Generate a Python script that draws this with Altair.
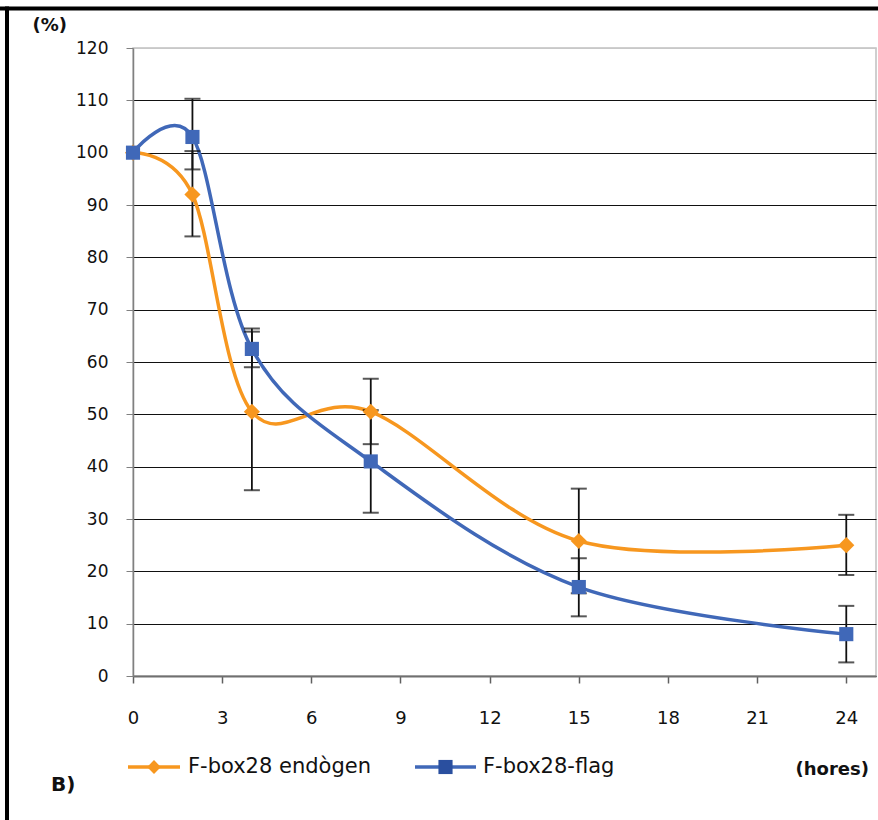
import altair as alt
import pandas as pd

# ---- data ----
hours = [0, 2, 4, 8, 15, 24]
series_names = ["F-box28 endògen", "F-box28-flag"]
endogen = [100, 92, 50.5, 50.5, 25.8, 25]
endogen_lo = [None, 84, 35.5, 44.3, 15.8, 19.3]
endogen_hi = [None, 100.3, 65.8, 56.8, 35.8, 30.8]
flag = [100, 103, 62.5, 41, 17, 8]
flag_lo = [None, 96.8, 59, 31.2, 11.4, 2.6]
flag_hi = [None, 110.3, 66.4, 50.8, 22.5, 13.4]
x_ticks = [0, 3, 6, 9, 12, 15, 18, 21, 24]
y_ticks = [0, 10, 20, 30, 40, 50, 60, 70, 80, 90, 100, 110, 120]
y_title = "(%)"
x_title = "(hores)"
panel_label = "B)"

ORANGE = "#F7971F"
BLUE_LINE = "#4068B8"
BLUE_MARK = "#2A4F9F"

rows, err_rows, cap_rows = [], [], []
for name, vals, lo, hi in [(series_names[0], endogen, endogen_lo, endogen_hi),
                           (series_names[1], flag, flag_lo, flag_hi)]:
    for h, v, l, u in zip(hours, vals, lo, hi):
        rows.append({"series": name, "h": h, "v": v})
        if l is not None:
            err_rows.append({"series": name, "h": h, "lo": l, "hi": u})
            cap_rows.append({"series": name, "h": h, "c": l})
            cap_rows.append({"series": name, "h": h, "c": u})
df = pd.DataFrame(rows)
err = pd.DataFrame(err_rows)
caps = pd.DataFrame(cap_rows)

W, H = 743, 628
PL, PT = 133, 48

xs = alt.Scale(domain=[0, 25], nice=False, zero=False)
ys = alt.Scale(domain=[0, 120], nice=False)

x_enc = alt.X("h:Q", scale=xs, axis=alt.Axis(
    values=x_ticks, grid=False, title=x_title, titleX=662, titleY=93,
    titleAlign="left", titleBaseline="middle", titleAngle=0,
    titleFont="DejaVu Sans", titleFontSize=18, titleFontWeight="bold", titleColor="#111",
    labelFont="DejaVu Sans", labelFontSize=18, labelColor="#111", labelPadding=26,
    labelBaseline="top", labelFlush=False, labelOverlap=False,
    tickSize=7, tickColor="#606060", tickWidth=1.5,
    domainColor="#707070", domainWidth=2))
y_enc = alt.Y("v:Q", scale=ys, axis=alt.Axis(
    values=y_ticks, grid=True,
    gridColor=alt.condition("datum.value == 120", alt.value("#c8c8c8"), alt.value("#111111")),
    gridWidth=1.2,
    title=y_title, titleX=-101, titleY=-23, titleAngle=0, titleAlign="left",
    titleBaseline="middle", titleFont="DejaVu Sans", titleFontSize=18,
    titleFontWeight="bold", titleColor="#111",
    labelFont="DejaVu Sans", labelFontSize=17, labelColor="#111", labelPadding=18,
    labelFlush=False, labelOverlap=False,
    tickSize=7, tickColor="#808080", domainColor="#808080", domainWidth=1.5))

color = alt.Color("series:N", scale=alt.Scale(domain=series_names, range=[ORANGE, BLUE_LINE]), legend=None)
mcolor = alt.Color("series:N", scale=alt.Scale(domain=series_names, range=[ORANGE, BLUE_MARK]), legend=None)
shape = alt.Shape("series:N", scale=alt.Scale(domain=series_names, range=["diamond", "square"]), legend=None)
msize = alt.Size("series:N", scale=alt.Scale(domain=series_names, range=[260, 200]), legend=None)

lines = alt.Chart(df).mark_line(interpolate="cardinal", strokeWidth=3.5).encode(
    x=x_enc, y=y_enc, color=color)

ebars = alt.Chart(err).mark_rule(color="#111", strokeWidth=1.8).encode(
    x=alt.X("h:Q", scale=xs), y=alt.Y("lo:Q", scale=ys), y2="hi:Q")
ecaps = alt.Chart(caps).mark_tick(color="#111", orient="horizontal", size=16, thickness=2).encode(
    x=alt.X("h:Q", scale=xs), y=alt.Y("c:Q", scale=ys))

points = alt.Chart(df).mark_point(filled=True, opacity=1).encode(
    x=alt.X("h:Q", scale=xs), y=alt.Y("v:Q", scale=ys), color=mcolor, shape=shape, size=msize)

# ---- frame lines of the figure ----
one = pd.DataFrame({"k": [0]})
frame_top = alt.Chart(one).mark_rule(color="black", strokeWidth=4).encode(
    x=alt.value(-PL), x2=alt.value(878 - PL), y=alt.value(8.5 - PT))
frame_left = alt.Chart(one).mark_rule(color="black", strokeWidth=4).encode(
    x=alt.value(7 - PL), y=alt.value(6.5 - PT), y2=alt.value(820 - PT))

# ---- legend (manual) ----
leg_y = 767 - PT
leg = []
for name, col, mcol, shp, sz, x0, x1, tx in [
        (series_names[0], ORANGE, ORANGE, "diamond", 190, 128, 180, 188),
        (series_names[1], BLUE_LINE, BLUE_MARK, "square", 200, 415, 476, 483)]:
    d = pd.DataFrame({"name": [name]})
    leg.append(alt.Chart(d).mark_rule(color=col, strokeWidth=3.5).encode(
        x=alt.value(x0 - PL), x2=alt.value(x1 - PL), y=alt.value(leg_y)))
    leg.append(alt.Chart(d).mark_point(filled=True, opacity=1, color=mcol, shape=shp, size=sz).encode(
        x=alt.value((x0 + x1) / 2 - PL), y=alt.value(leg_y)))
    leg.append(alt.Chart(d).mark_text(align="left", baseline="middle", font="DejaVu Sans",
                                      fontSize=21, color="#111").encode(
        x=alt.value(tx - PL), y=alt.value(leg_y), text="name:N"))

blabel = alt.Chart(pd.DataFrame({"t": [panel_label]})).mark_text(
    align="left", baseline="middle", font="DejaVu Sans", fontSize=20, fontWeight="bold", color="#111").encode(
    x=alt.value(51 - PL), y=alt.value(785 - PT), text="t:N")

chart = alt.layer(lines, ebars, ecaps, points, frame_top, frame_left, *leg, blabel).properties(
    width=W, height=H,
    autosize=alt.AutoSizeParams(type="none"),
    padding={"left": PL, "top": PT, "right": 878 - PL - W, "bottom": 820 - PT - H},
    background="white",
).configure_view(stroke="#c0c0c0", strokeWidth=1.5)

chart.save("out.html", embed_options={"renderer": "svg", "actions": False})
